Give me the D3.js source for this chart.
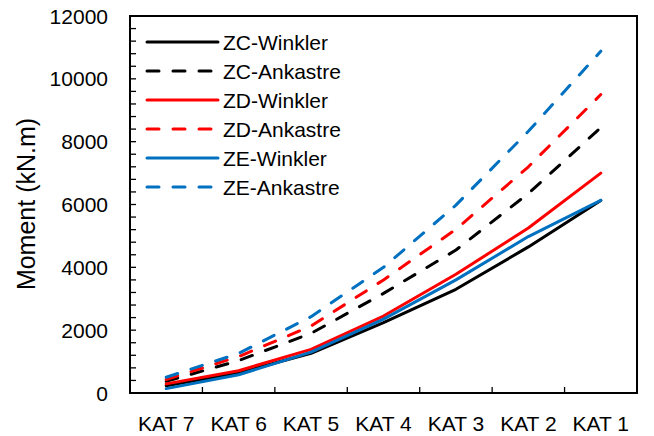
<!DOCTYPE html>
<html>
<head>
<meta charset="utf-8">
<script src="https://cdn.jsdelivr.net/npm/d3@7"></script>
<style>
  html, body { margin: 0; padding: 0; background: #fff; }
  svg { display: block; }
  text { font-family: "Liberation Sans", Arial, sans-serif; fill: #000; }
</style>
</head>
<body>
<svg id="chart" width="654" height="436"></svg>
<script>
const categories = ["KAT 7", "KAT 6", "KAT 5", "KAT 4", "KAT 3", "KAT 2", "KAT 1"];
const seriesNames = ["ZC-Winkler", "ZC-Ankastre", "ZD-Winkler", "ZD-Ankastre", "ZE-Winkler", "ZE-Ankastre"];
const zcWinkler  = [230, 646, 1263, 2238, 3300, 4650, 6130];
const zcAnkastre = [370, 1030, 1900, 3170, 4550, 6350, 8450];
const zdWinkler  = [290, 710, 1390, 2450, 3780, 5250, 7000];
const zdAnkastre = [430, 1160, 2130, 3600, 5210, 7200, 9500];
const zeWinkler  = [140, 580, 1300, 2350, 3600, 4980, 6130];
const zeAnkastre = [500, 1260, 2430, 4000, 5980, 8330, 10880];
const yTicks = [0, 2000, 4000, 6000, 8000, 10000, 12000];
const yTitle = "Moment (kN.m)";

const seriesValues = [zcWinkler, zcAnkastre, zdWinkler, zdAnkastre, zeWinkler, zeAnkastre];
const colors = ["#000000", "#000000", "#ff0000", "#ff0000", "#0070c0", "#0070c0"];
const dashed = [false, true, false, true, false, true];

const svg = d3.select("#chart");
const L = 130, R = 637, T = 16, B = 393;

const x = d3.scaleBand().domain(categories).range([L, R]).paddingInner(0).paddingOuter(0);
const y = d3.scaleLinear().domain([0, 12000]).range([B, T]);

// Lines
const line = d3.line()
  .x((d, i) => x(categories[i]) + x.bandwidth() / 2)
  .y(d => y(d));

seriesValues.forEach((vals, k) => {
  svg.append("path")
    .datum(vals)
    .attr("d", line)
    .attr("fill", "none")
    .attr("stroke", colors[k])
    .attr("stroke-width", 3)
    .attr("stroke-linecap", "round")
    .attr("stroke-linejoin", "round")
    .attr("stroke-dasharray", dashed[k] ? "12,14" : null);
});

// Y axis minor + major ticks (inside)
const minor = d3.range(0, 12001, 400);
svg.append("g").selectAll("line").data(minor).join("line")
  .attr("x1", L).attr("x2", L + 6)
  .attr("y1", d => y(d)).attr("y2", d => y(d))
  .attr("stroke", "#000").attr("stroke-width", 1.3);

svg.append("g").selectAll("text").data(yTicks).join("text")
  .attr("x", 108).attr("y", d => y(d))
  .attr("text-anchor", "end")
  .attr("dominant-baseline", "central")
  .attr("font-size", 21)
  .text(d => d);

// X axis ticks at category boundaries (inside)
const bounds = categories.map(c => x(c)).concat([R]);
svg.append("g").selectAll("line").data(bounds).join("line")
  .attr("x1", d => d).attr("x2", d => d)
  .attr("y1", B).attr("y2", B - 6)
  .attr("stroke", "#000").attr("stroke-width", 1.3);

svg.append("g").selectAll("text").data(categories).join("text")
  .attr("x", d => x(d) + x.bandwidth() / 2)
  .attr("y", 423)
  .attr("text-anchor", "middle")
  .attr("dominant-baseline", "central")
  .attr("font-size", 21)
  .text(d => d);

// Plot border
svg.append("rect")
  .attr("x", L).attr("y", T).attr("width", R - L).attr("height", B - T)
  .attr("fill", "none").attr("stroke", "#000").attr("stroke-width", 2);

// Y title
svg.append("text")
  .attr("transform", `translate(26,204) rotate(-90)`)
  .attr("text-anchor", "middle")
  .attr("dominant-baseline", "central")
  .attr("font-size", 25)
  .text(yTitle);

// Legend
const lg = svg.append("g");
seriesNames.forEach((name, k) => {
  const yy = 42 + k * 29;
  lg.append("line")
    .attr("x1", 147).attr("x2", 218).attr("y1", yy).attr("y2", yy)
    .attr("stroke", colors[k]).attr("stroke-width", 3)
    .attr("stroke-linecap", "round")
    .attr("stroke-dasharray", dashed[k] ? "12,14" : null);
  lg.append("text")
    .attr("x", 223).attr("y", yy)
    .attr("dominant-baseline", "central")
    .attr("font-size", 21)
    .text(name);
});
</script>
</body>
</html>
